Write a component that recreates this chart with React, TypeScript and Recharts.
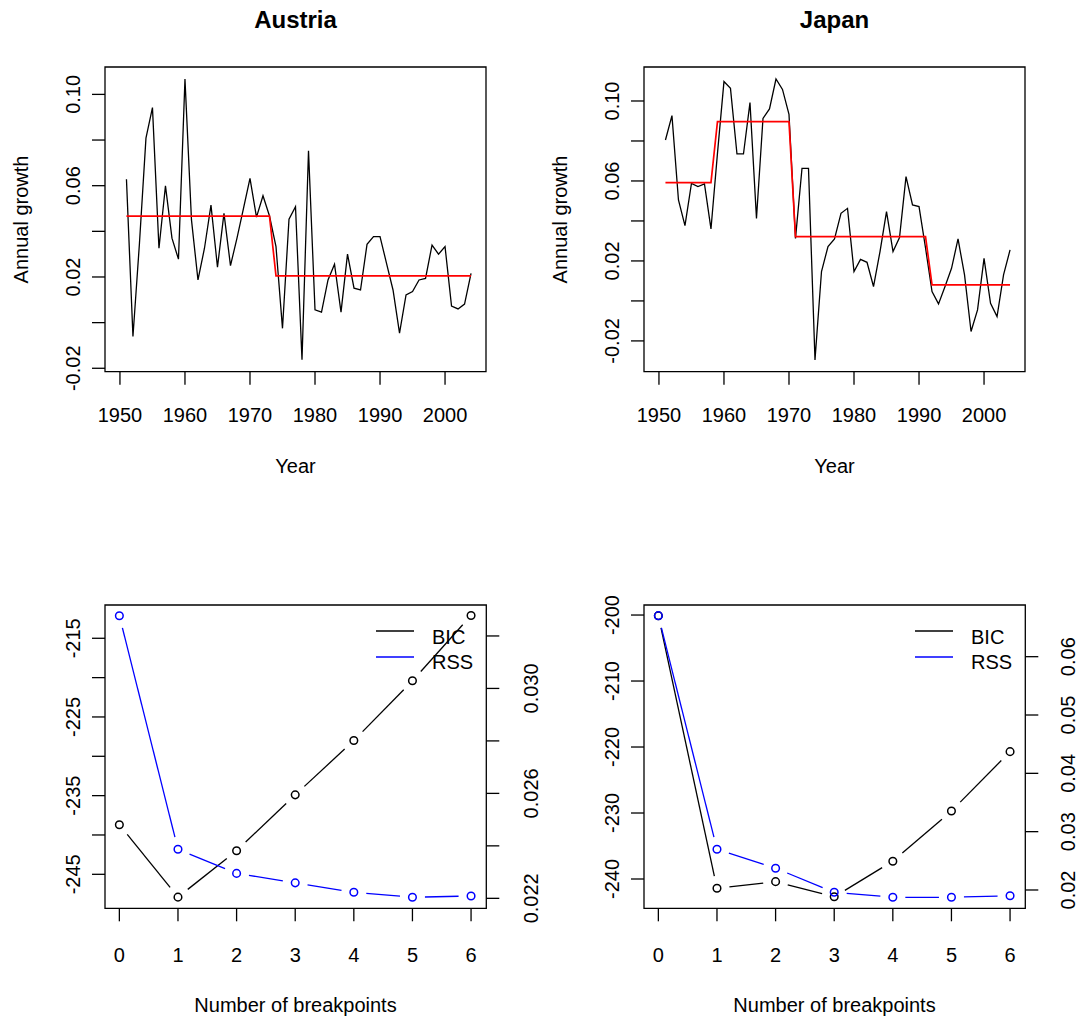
import React from "react";
import { LineChart, Line, XAxis, YAxis, ReferenceArea, Legend } from "recharts";

// ---- data ----
const years = [
  1951, 1952, 1953, 1954, 1955, 1956, 1957, 1958, 1959, 1960,
  1961, 1962, 1963, 1964, 1965, 1966, 1967, 1968, 1969, 1970,
  1971, 1972, 1973, 1974, 1975, 1976, 1977, 1978, 1979, 1980,
  1981, 1982, 1983, 1984, 1985, 1986, 1987, 1988, 1989, 1990,
  1991, 1992, 1993, 1994, 1995, 1996, 1997, 1998, 1999, 2000,
  2001, 2002, 2003, 2004,
];

const austriaGrowth = [
  0.0628, -0.0061, 0.0348, 0.0808, 0.0942, 0.0326, 0.0599, 0.037, 0.0278, 0.1067,
  0.045, 0.0187, 0.0326, 0.0515, 0.0243, 0.0479, 0.025, 0.037, 0.0501, 0.0632,
  0.0462, 0.0556, 0.0467, 0.0333, -0.0025, 0.0453, 0.0508, -0.0163, 0.0753, 0.0056,
  0.0046, 0.0187, 0.0256, 0.0046, 0.03, 0.0151, 0.0143, 0.0343, 0.0377, 0.0377,
  0.026, 0.0143, -0.0046, 0.0121, 0.0136, 0.0187, 0.0194, 0.034, 0.03, 0.0333,
  0.0073, 0.006, 0.0081, 0.0216,
];

const japanGrowth = [
  0.0805, 0.0927, 0.0505, 0.0377, 0.0588, 0.0572, 0.0585, 0.036, 0.0738, 0.1097,
  0.1063, 0.0735, 0.0735, 0.0992, 0.0413, 0.0913, 0.096, 0.111, 0.1058, 0.0933,
  0.0313, 0.0663, 0.0663, -0.0295, 0.0147, 0.0272, 0.031, 0.0438, 0.0463, 0.0147,
  0.0208, 0.0193, 0.0072, 0.0247, 0.0447, 0.0247, 0.0317, 0.0622, 0.048, 0.0472,
  0.0265, 0.0047, -0.0015, 0.0072, 0.0163, 0.031, 0.013, -0.0153, -0.0045, 0.0213,
  -0.0012, -0.0078, 0.013, 0.0255,
];

// fitted segment means: last year of each segment and its level
const austriaSegmentEnds = [1973, 2004];
const austriaSegmentLevels = [0.0467, 0.0205];
const japanSegmentEnds = [1958, 1970, 1991, 2004];
const japanSegmentLevels = [0.0592, 0.0897, 0.0322, 0.008];

const breakpoints = [0, 1, 2, 3, 4, 5, 6];
const austriaBIC = [-238.7, -247.9, -242.0, -234.9, -228.0, -220.4, -212.1];
const austriaRSS = [0.03277, 0.02387, 0.02295, 0.02259, 0.02223, 0.02204, 0.02209];
const japanBIC = [-200.1, -241.4, -240.4, -242.7, -237.3, -229.7, -220.7];
const japanRSS = [0.06703, 0.02698, 0.02372, 0.01961, 0.01875, 0.01875, 0.01902];

const yearTicks = [1950, 1960, 1970, 1980, 1990, 2000];
const yearTickLabels = ["1950", "1960", "1970", "1980", "1990", "2000"];
const growthTicks = [-0.02, 0, 0.02, 0.04, 0.06, 0.08, 0.1];
const growthTickLabels = ["-0.02", "", "0.02", "", "0.06", "", "0.10"];
const bpTickLabels = ["0", "1", "2", "3", "4", "5", "6"];
const austriaBicTicks = [-245, -240, -235, -230, -225, -220, -215];
const austriaBicLabels = ["-245", "", "-235", "", "-225", "", "-215"];
const austriaRssTicks = [0.022, 0.024, 0.026, 0.028, 0.03, 0.032];
const austriaRssLabels = ["0.022", "", "0.026", "", "0.030", ""];
const japanBicTicks = [-240, -230, -220, -210, -200];
const japanBicLabels = ["-240", "-230", "-220", "-210", "-200"];
const japanRssTicks = [0.02, 0.03, 0.04, 0.05, 0.06];
const japanRssLabels = ["0.02", "0.03", "0.04", "0.05", "0.06"];

const legendItems = [
  { name: "BIC", color: "#000000" },
  { name: "RSS", color: "#0000ff" },
];

// ---- helpers ----
const FONT = "'Liberation Sans', Arial, Helvetica, sans-serif";
const CW = 539;
const TOP_H = 508;
const BOT_H = 509;

function fittedFor(year: number, ends: number[], levels: number[]) {
  const k = ends.findIndex((e) => year <= e);
  return levels[k];
}

const growthData = years.map((year, i) => ({
  year,
  austria: austriaGrowth[i],
  austriaFit: fittedFor(year, austriaSegmentEnds, austriaSegmentLevels),
  japan: japanGrowth[i],
  japanFit: fittedFor(year, japanSegmentEnds, japanSegmentLevels),
}));

const bpData = breakpoints.map((bp, i) => ({
  bp,
  austriaBIC: austriaBIC[i],
  austriaRSS: austriaRSS[i],
  japanBIC: japanBIC[i],
  japanRSS: japanRSS[i],
}));

function lookup(ticks: number[], labels: string[], v: number) {
  const i = ticks.findIndex((t) => Math.abs(t - v) < 1e-9);
  return i >= 0 ? labels[i] : "";
}

const makeXTick = (ticks: number[], labels: string[]) => (props: any) => {
  const { x, y, payload } = props;
  return (
    <text x={x} y={y} textAnchor="middle" fontSize={20} fontFamily={FONT} fill="#000">
      {lookup(ticks, labels, payload.value)}
    </text>
  );
};

const makeYTick = (ticks: number[], labels: string[]) => (props: any) => {
  const { x, y, payload } = props;
  return (
    <text
      x={x}
      y={y}
      transform={`rotate(-90 ${x} ${y})`}
      textAnchor="middle"
      fontSize={20}
      fontFamily={FONT}
      fill="#000"
    >
      {lookup(ticks, labels, payload.value)}
    </text>
  );
};

// R type="b": open circles, lines stop short of the points
const GAP = 12.5;
const prevPts: Record<string, { x: number; y: number }[]> = {};
const makeGapDot = (id: string, color: string) => (props: any) => {
  const { cx, cy, index, points } = props;
  const store = (prevPts[id] = prevPts[id] || []);
  store[index] = { x: cx, y: cy };
  let from: { x: number; y: number } | null = null;
  if (points && points[index - 1]) from = { x: points[index - 1].x, y: points[index - 1].y };
  else if (index > 0 && store[index - 1]) from = store[index - 1];
  let seg = null;
  if (from) {
    const dx = cx - from.x;
    const dy = cy - from.y;
    const len = Math.hypot(dx, dy);
    if (len > 2 * GAP) {
      const ux = dx / len;
      const uy = dy / len;
      seg = (
        <line
          x1={from.x + ux * GAP}
          y1={from.y + uy * GAP}
          x2={cx - ux * GAP}
          y2={cy - uy * GAP}
          stroke={color}
          strokeWidth={1.3}
        />
      );
    }
  }
  return (
    <g key={`${id}-${index}`}>
      {seg}
      <circle cx={cx} cy={cy} r={3.8} fill="none" stroke={color} strokeWidth={1.5} />
    </g>
  );
};

const legendContent = () => (
  <svg width={130} height={80} style={{ display: "block" }}>
    {legendItems.map((it, i) => (
      <g key={it.name}>
        <line x1={6} x2={44} y1={26 + i * 26} y2={26 + i * 26} stroke={it.color} strokeWidth={1.3} />
        <text x={62} y={38.5 + i * 25.7} fontSize={20} fontFamily={FONT} fill="#000">
          {it.name}
        </text>
      </g>
    ))}
  </svg>
);

const tickLine = { stroke: "#000", strokeWidth: 1.3 };

function GrowthPanel({ left, keyName, fitKey, yDomain }: any) {
  const xDomain = [1947.7, 2006.3];
  return (
    <div style={{ position: "absolute", left, top: 0 }}>
      <LineChart width={CW} height={TOP_H} data={growthData} margin={{ top: 67, left: 45, right: 53, bottom: 76.3 }}>
        <XAxis
          dataKey="year"
          type="number"
          domain={xDomain}
          allowDataOverflow
          ticks={yearTicks}
          interval={0}
          height={60}
          axisLine={false}
          tickLine={tickLine}
          tickSize={13}
          tickMargin={37}
          tick={makeXTick(yearTicks, yearTickLabels)}
        />
        <YAxis
          type="number"
          domain={yDomain}
          allowDataOverflow
          ticks={growthTicks}
          interval={0}
          width={60}
          axisLine={false}
          tickLine={tickLine}
          tickSize={13}
          tickMargin={12}
          tick={makeYTick(growthTicks, growthTickLabels)}
        />
        <Line dataKey={keyName} type="linear" stroke="#000" strokeWidth={1.3} dot={false} activeDot={false} isAnimationActive={false} />
        <Line dataKey={fitKey} type="linear" stroke="#ff0000" strokeWidth={1.7} dot={false} activeDot={false} isAnimationActive={false} />
        <ReferenceArea x1={xDomain[0]} x2={xDomain[1]} y1={yDomain[0]} y2={yDomain[1]} fill="none" fillOpacity={0} stroke="#000" strokeWidth={1.3} ifOverflow="visible" />
      </LineChart>
    </div>
  );
}

function BreakPanel({ left, width, bicKey, rssKey, bicDomain, rssDomain, bicTicks, bicLabels, rssTicks, rssLabels, rssMargin }: any) {
  const xDomain = [-0.245, 6.26];
  return (
    <div style={{ position: "absolute", left, top: TOP_H }}>
      <LineChart width={width} height={BOT_H} data={bpData} margin={{ top: 97, left: 45, right: width - CW + 2.7, bottom: 48.7 }}>
        <XAxis
          dataKey="bp"
          type="number"
          domain={xDomain}
          allowDataOverflow
          ticks={breakpoints}
          interval={0}
          height={60}
          axisLine={false}
          tickLine={tickLine}
          tickSize={13}
          tickMargin={40.4}
          tick={makeXTick(breakpoints, bpTickLabels)}
        />
        <YAxis
          yAxisId="bic"
          type="number"
          domain={bicDomain}
          allowDataOverflow
          ticks={bicTicks}
          interval={0}
          width={60}
          axisLine={false}
          tickLine={tickLine}
          tickSize={13}
          tickMargin={12}
          tick={makeYTick(bicTicks, bicLabels)}
        />
        <YAxis
          yAxisId="rss"
          orientation="right"
          type="number"
          domain={rssDomain}
          allowDataOverflow
          ticks={rssTicks}
          interval={0}
          width={50}
          axisLine={false}
          tickLine={tickLine}
          tickSize={13}
          tickMargin={rssMargin}
          tick={makeYTick(rssTicks, rssLabels)}
        />
        <Line yAxisId="bic" dataKey={bicKey} type="linear" stroke="none" dot={makeGapDot(bicKey, "#000000")} activeDot={false} isAnimationActive={false} />
        <Line yAxisId="rss" dataKey={rssKey} type="linear" stroke="none" dot={makeGapDot(rssKey, "#0000ff")} activeDot={false} isAnimationActive={false} />
        <ReferenceArea yAxisId="bic" x1={xDomain[0]} x2={xDomain[1]} y1={bicDomain[0]} y2={bicDomain[1]} fill="none" fillOpacity={0} stroke="#000" strokeWidth={1.3} ifOverflow="visible" />
        <Legend
          layout="horizontal"
          verticalAlign="middle"
          align="center"
          wrapperStyle={{ left: 370, top: 97, width: 130, height: 80 }}
          content={legendContent}
        />
      </LineChart>
    </div>
  );
}

export default function App() {
  const titles = [
    { text: "Austria", cx: 295.5 },
    { text: "Japan", cx: CW + 295.5 },
  ];
  return (
    <div style={{ position: "absolute", left: 0, top: 0, width: 1078, height: 1017, background: "#fff", overflow: "hidden" }}>
      <GrowthPanel left={0} keyName="austria" fitKey="austriaFit" yDomain={[-0.0215, 0.112]} />
      <GrowthPanel left={CW} keyName="japan" fitKey="japanFit" yDomain={[-0.0354, 0.117]} />
      <BreakPanel
        left={0}
        width={565}
        bicKey="austriaBIC"
        rssKey="austriaRSS"
        bicDomain={[-249.32, -210.77]}
        rssDomain={[0.02162, 0.03318]}
        bicTicks={austriaBicTicks}
        bicLabels={austriaBicLabels}
        rssTicks={austriaRssTicks}
        rssLabels={austriaRssLabels}
        rssMargin={38.5}
      />
      <BreakPanel
        left={CW}
        width={CW}
        bicKey="japanBIC"
        rssKey="japanRSS"
        bicDomain={[-244.44, -198.48]}
        rssDomain={[0.01686, 0.06886]}
        bicTicks={japanBicTicks}
        bicLabels={japanBicLabels}
        rssTicks={japanRssTicks}
        rssLabels={japanRssLabels}
        rssMargin={36.8}
      />
      <svg width={1078} height={1017} style={{ position: "absolute", left: 0, top: 0, pointerEvents: "none" }}>
        <g fontFamily={FONT} fill="#000">
          {titles.map((t) => (
            <text key={t.text} x={t.cx} y={28.3} textAnchor="middle" fontSize={24} fontWeight="bold">
              {t.text}
            </text>
          ))}
          {titles.map((t) => (
            <g key={`lab-${t.text}`}>
              <text x={t.cx} y={473.3} textAnchor="middle" fontSize={20}>Year</text>
              <text x={t.cx} y={1011.5} textAnchor="middle" fontSize={20}>Number of breakpoints</text>
              <text
                x={t.cx - 267.5}
                y={219.5}
                transform={`rotate(-90 ${t.cx - 267.5} 219.5)`}
                textAnchor="middle"
                fontSize={20}
              >
                Annual growth
              </text>
            </g>
          ))}
        </g>
      </svg>
    </div>
  );
}
